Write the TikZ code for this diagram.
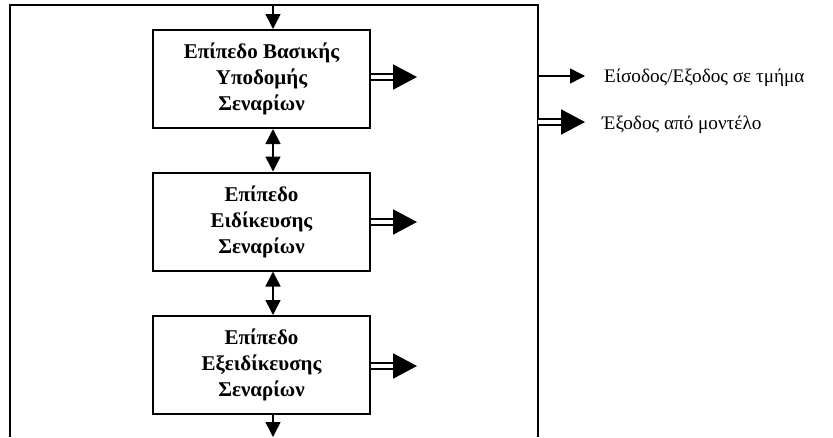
\documentclass[tikz,border=0pt]{standalone}
\usepackage{fontspec}
\setmainfont{Liberation Serif}
\usetikzlibrary{arrows.meta}
\begin{document}
\begin{tikzpicture}[x=1pt,y=-1pt,
  frame/.style={line width=2pt},
  level/.style={draw, line width=2pt, minimum width=217pt, minimum height=98pt,
    align=center, font=\fontsize{21}{26}\selectfont\bfseries, inner sep=0pt},
  flow/.style={line width=1.5pt, -{Triangle[length=15pt,width=15pt]}},
  both/.style={line width=1.5pt, {Triangle[length=15pt,width=15pt]}-{Triangle[length=15pt,width=15pt]}},
  outarrow/.style={double, double distance=4pt, line width=2pt, -{Triangle[length=24pt,width=25pt]}},
  legend/.style={anchor=base west, font=\fontsize{19.2}{22}\selectfont, inner sep=0pt}]
\useasboundingbox (0,0) rectangle (833,437);
% enclosing frame, open at the bottom
\draw[frame] (10,437) -- (10,5) -- (538,5) -- (538,437);

% the three levels
\node[level] (b1) at (261.5,79) {Επίπεδο Βασικής\\Υποδομής\\Σεναρίων};
\node[level] (b2) at (261.5,221.5) {Επίπεδο\\Ειδίκευσης\\Σεναρίων};
\node[level] (b3) at (261.5,365) {Επίπεδο\\Εξειδίκευσης\\Σεναρίων};

% vertical flow through the stack
\coordinate (top) at (273,5);
\coordinate (bot) at (273,437);
\coordinate (c1) at (273,0);
\draw[flow] (top) -- (top |- b1.north);
\draw[both] (c1 |- b1.south) -- (c1 |- b2.north);
\draw[both] (c1 |- b2.south) -- (c1 |- b3.north);
\draw[flow] (c1 |- b3.south) -- (bot);

% outputs of each level
\coordinate (o1) at (417,77);
\coordinate (o2) at (417,222);
\coordinate (o3) at (417,366);
\draw[outarrow] (b1.east |- o1) -- (o1);
\draw[outarrow] (b2.east |- o2) -- (o2);
\draw[outarrow] (b3.east |- o3) -- (o3);

% legend
\coordinate (l1s) at (538,76);
\coordinate (l1e) at (585,76);
\coordinate (l2s) at (538,122);
\coordinate (l2e) at (585,122);
\draw[flow] (l1s) -- (l1e);
\draw[outarrow] (l2s) -- (l2e);
\node[legend] (t1) at (604,82) {Είσοδος/Εξοδος σε τμήμα};
\node[legend] (t2) at (602,129) {Έξοδος από μοντέλο};
\end{tikzpicture}
\end{document}
